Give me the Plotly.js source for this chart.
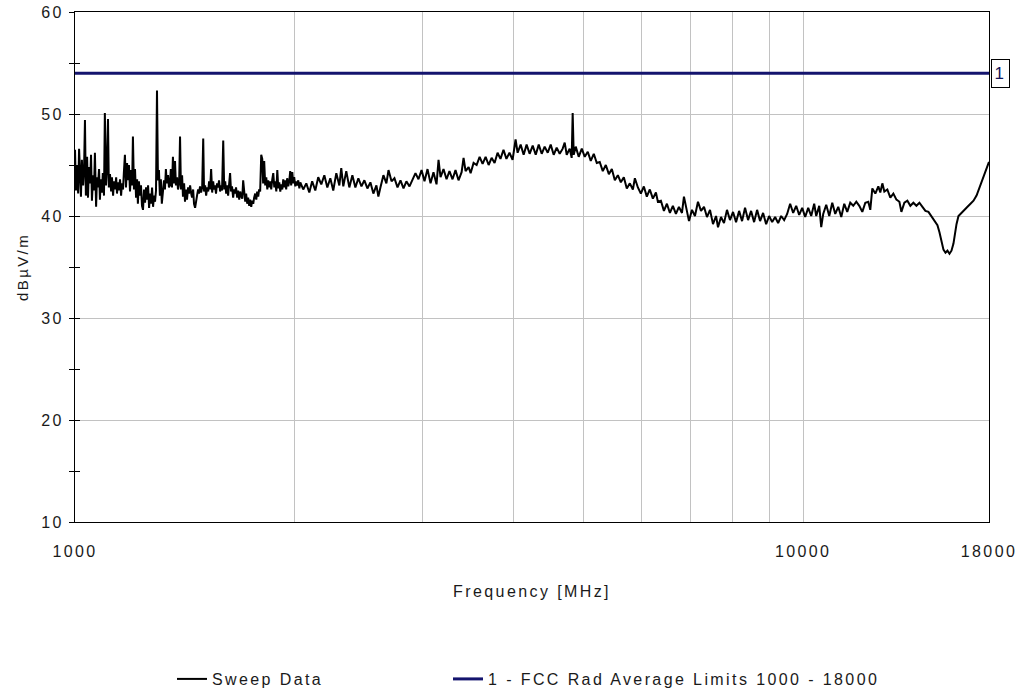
<!DOCTYPE html>
<html>
<head>
<meta charset="utf-8">
<script src="https://cdn.plot.ly/plotly-3.0.1.min.js"></script>
<style>
html,body{margin:0;padding:0;background:#fff;}
#chart{width:1022px;height:694px;}
text{letter-spacing:2.4px;}
</style>
</head>
<body>
<div id="chart"></div>
<script>
// ---- Sweep data (frequency in MHz, level in dBµV/m) ----
const sweepFreqA1 = [1000,1003,1006,1010,1013,1016,1019,1022,1026,1029,
1032,1035,1039,1042,1045,1049,1052,1055,1059,1062,
1065,1069,1072,1075,1079,1082,1085,1089,1092,1096,
1099,1103,1106,1110,1113,1117,1121,1124,1128,1131,
1135,1139,1142,1146,1149,1153,1157,1160,1164,1167,
1171,1175,1179,1182,1186,1190,1194,1198,1201,1205,
1209,1213,1217,1220,1224,1228];
const sweepDbA1 = [46.5,42.5,45.0,42.2,46.6,43.5,41.9,45.5,43.0,44.5,
49.4,42.0,45.8,41.8,44.8,43.2,46.0,41.5,44.0,42.5,
46.2,40.9,43.8,42.8,44.6,41.6,43.6,42.3,44.2,42.0,
50.1,43.0,44.4,49.5,42.8,44.1,42.4,43.8,42.0,43.4,
42.6,43.8,42.2,43.3,42.5,43.6,42.0,43.2,42.6,44.2,
46.0,42.8,45.2,43.5,45.0,42.4,44.5,43.0,47.8,42.6,
44.6,41.8,43.6,41.2,43.4,42.0];

const sweepFreqA2 = [1232,1236,1240,1244,1248,1252,1256,1260,1264,1268,
1272,1276,1280,1284,1288,1292,1296,1300,1304,1308,
1312,1316,1321,1325,1329,1333,1337,1342,1346,1350,
1354,1359,1363,1368,1372,1376,1381,1385,1390,1394,
1398,1403,1407,1412,1416,1421,1425,1430,1434,1439,
1444,1448,1453,1457,1462,1467,1471,1476,1480,1485];
const sweepDbA2 = [43.0,41.0,40.6,42.6,41.3,42.8,41.6,43.0,40.8,42.2,
41.2,42.8,40.9,42.0,41.4,42.5,52.3,43.5,44.5,42.0,
43.6,41.2,42.8,43.5,42.6,44.6,43.2,44.0,42.8,43.0,
44.6,42.8,45.8,43.2,45.4,43.0,43.8,42.6,43.2,47.8,
42.6,44.0,41.9,43.2,41.4,42.6,41.6,42.8,42.2,43.0,
42.2,41.8,42.6,41.2,40.8,41.8,42.0,42.6,42.2,42.9];

const sweepFreqA3 = [1490,1495,1500,1504,1509,1514,1519,1524,1528,1533,
1538,1543,1548,1552,1557,1562,1567,1572,1577,1582,
1587,1592,1598,1603,1608,1613,1618,1623,1628,1633,
1638,1643,1649,1654,1659,1664,1670,1675,1681,1686,
1691,1697,1702,1708,1713,1718,1724,1729,1735,1740,
1746,1751,1757,1762,1768,1774,1779,1785,1790,1796,
1802,1808,1813,1819,1825,1831,1837,1842,1848,1854,
1860,1866,1872,1878,1884,1890,1896,1902,1908,1914,
1920,1926,1932,1938,1944,1950,1956,1963,1969,1975,
1981,1988,1994,2000,2007,2013,2020,2026,2033,2039];
const sweepDbA3 = [42.3,42.8,47.6,42.4,43.0,42.0,42.8,42.4,43.4,42.6,
44.6,42.3,43.4,42.6,43.0,42.2,43.2,42.8,43.5,42.4,
43.0,42.5,47.4,42.6,43.4,42.2,43.0,42.0,42.8,44.2,
42.4,42.9,41.8,42.6,42.2,42.8,41.8,42.5,41.6,42.4,
42.0,41.7,43.5,42.0,41.4,42.2,41.2,41.8,41.0,41.6,
40.9,41.5,41.2,41.8,42.2,41.6,42.4,41.9,42.6,42.4,
46.0,45.6,43.2,45.4,43.0,43.8,42.6,43.5,42.8,43.4,
42.6,43.6,44.2,42.8,43.4,42.4,44.5,42.7,43.3,42.4,
43.1,42.6,43.6,42.8,43.5,42.6,43.7,42.9,43.4,44.4,
43.0,44.3,43.2,43.8,42.9,43.4,43.0,43.5,42.7,43.3];

const sweepFreqB = [2058,2078,2098,2117,2138,2158,2179,2200,2221,2242,
2263,2285,2307,2321,2336,2358,2381,2404,2427,2450,
2474,2497,2521,2545,2569,2594,2610,2627,2652,2677,
2695,2721,2746,2773,2799,2826,2852,2880,2907,2935,
2963,2992,3020,3049,3078,3107,3137,3157,3177,3207,
3238,3268,3300,3331,3363];
const sweepDbB = [42.6,43.2,42.3,43.4,42.5,43.8,43.1,44.0,42.8,43.7,
42.5,44.2,43.0,44.7,42.9,44.4,42.8,44.0,42.8,43.7,
42.9,43.5,42.7,43.3,42.2,43.0,41.9,42.8,44.0,43.2,
44.5,43.4,43.7,42.8,43.5,42.7,43.4,42.9,43.6,44.2,
43.6,44.5,43.4,44.6,43.2,44.3,43.1,45.5,43.8,44.6,
43.6,44.4,43.6,44.5,43.5];

const sweepFreqC = [3396,3417,3439,3472,3494,3527,3561,3595,3629,3664,
3699,3734,3769,3805,3840,3877,3913,3951,3990,4028,
4054,4093,4132,4171,4211,4252,4293,4334,4375,4416,
4459,4501,4544,4587,4631,4675,4705,4735,4780,4810,
4825,4841,4872,4918,4966,5013,5061,5109,5158,5207,
5256,5307,5358,5410,5461,5513,5566,5619,5672,5726,
5781,5837,5874,5930];
const sweepDbC = [44.3,45.7,44.4,44.8,44.2,45.2,45.0,45.8,45.1,45.8,
45.0,45.7,45.2,46.2,45.6,46.5,45.6,46.2,45.5,47.5,
46.2,47.0,46.0,47.0,46.1,46.9,46.0,47.0,46.1,46.8,
46.2,47.0,46.0,46.7,46.1,46.6,47.2,46.0,46.6,45.7,
50.1,46.0,46.8,45.8,46.6,45.8,46.3,45.4,46.1,45.2,
45.3,44.4,45.0,44.1,44.6,43.5,44.0,43.3,43.8,42.7,
43.2,42.6,43.7,42.8];

const sweepFreqD = [5986,6043,6100,6158,6218,6278,6317,6378,6439,6500,
6562,6624,6688,6752,6817,6860,6904,6970,7036,7103,
7171,7240,7309,7378,7449,7520,7593,7640,7713,7786,
7860,7935,8012,8089,8167,8244,8322,8402,8483,8564,
8645,8727,8811,8896,8981,9067,9153,9240,9329,9418,
9507,9598,9690,9783,9876,9971,10065,10162,10259];
const sweepDbD = [42.2,42.9,41.9,42.6,41.7,42.3,41.4,41.5,40.5,41.2,
40.3,41.0,40.2,40.9,40.3,41.9,40.8,39.5,40.6,40.0,
41.4,40.5,40.9,39.9,40.6,39.2,40.0,38.9,39.9,39.3,
40.6,39.6,40.4,39.4,40.5,39.5,40.8,39.6,40.5,39.4,
40.6,39.5,40.3,39.2,40.0,39.4,39.9,39.3,40.0,39.6,
40.2,41.2,40.3,41.0,40.1,40.8,39.9,40.8,40.0];

const sweepFreqE = [10356,10423,10523,10589,10656,10758,10861,10965,11069,11175,
11282,11389,11497,11607,11718,11831,11944,12058,12173,12289,
12366,12446,12565,12685,12764,12847,12928,13051,13175,13302,
13431,13559,13644,13774,13905,14037,14172,14308,14445,14583,
14722,14863,15005,15148,15292,15390,15488,15586,15685,15784,
15886,15986,16087,16138,16242,16344,16501,16658,16816,16976,
17139,17305,17414,17522,17636,17747,17861,17974,18000];
const sweepDbE = [41.2,40.0,41.0,38.9,40.2,41.1,40.0,41.3,40.2,40.9,
39.9,41.2,40.4,41.3,41.0,41.4,41.0,40.4,41.3,41.4,
40.6,42.7,42.2,42.9,42.3,43.2,42.4,42.6,41.8,42.2,
41.6,41.4,40.4,41.3,41.5,41.0,41.3,41.0,41.3,40.9,
40.5,40.4,40.0,39.6,39.1,38.4,37.5,36.7,36.4,36.6,
36.3,36.6,37.3,38.0,39.2,40.0,40.3,40.5,40.9,41.2,
41.5,42.0,42.5,43.0,43.5,44.2,44.6,45.1,45.3];

// ---- Limit line ----
const limitFreq = [1000, 18000];
const limitDb = [54, 54];
const limitLabel = '1';

// ---- Axis ticks ----
const xTickVals = [1000,2000,3000,4000,5000,6000,7000,8000,9000,10000,18000];
const xTickText = ['1000','','','','','','','','','10000','18000'];
const yTickVals = [10,20,30,40,50,60];

const sweepFreq = [].concat(sweepFreqA1, sweepFreqA2, sweepFreqA3, sweepFreqB, sweepFreqC, sweepFreqD, sweepFreqE);
const sweepDb = [].concat(sweepDbA1, sweepDbA2, sweepDbA3, sweepDbB, sweepDbC, sweepDbD, sweepDbE);

const FONT = '"Liberation Sans", Arial, sans-serif';
const TXT = '#1a1a1a';

const traces = [
  {
    x: sweepFreq, y: sweepDb, type: 'scatter', mode: 'lines',
    name: 'Sweep Data',
    legend: 'legend',
    line: {color: '#000000', width: 2},
    hoverinfo: 'skip'
  },
  {
    x: limitFreq, y: limitDb, type: 'scatter', mode: 'lines',
    name: '1 - FCC Rad Average Limits 1000 - 18000',
    legend: 'legend2',
    yaxis: 'y2',
    line: {color: '#14146e', width: 3},
    hoverinfo: 'skip'
  }
];

const legendCommon = {
  orientation: 'h',
  xanchor: 'left',
  yref: 'container', y: 0.0216, yanchor: 'middle',
  font: {family: FONT, size: 16, color: TXT},
  bgcolor: 'rgba(0,0,0,0)'
};

const layout = {
  width: 1022, height: 694,
  margin: {l: 75, r: 33, t: 12, b: 172},
  paper_bgcolor: '#ffffff', plot_bgcolor: '#ffffff',
  font: {family: FONT, color: TXT, size: 16},
  showlegend: true,
  xaxis: {
    type: 'log',
    range: [Math.log10(limitFreq[0]), Math.log10(limitFreq[1])],
    tickmode: 'array', tickvals: xTickVals, ticktext: xTickText,
    ticks: '', showgrid: true, gridcolor: '#c2c2c2', gridwidth: 1,
    showline: true, linecolor: '#000000', linewidth: 1, mirror: true,
    zeroline: false,
    tickfont: {family: FONT, size: 16, color: TXT},
    ticklabelstandoff: 15,
    title: {text: 'Frequency [MHz]', font: {family: FONT, size: 16, color: TXT}, standoff: 26},
    automargin: false
  },
  yaxis: {
    range: [10, 60],
    tickmode: 'array', tickvals: yTickVals,
    ticks: 'outside', ticklen: 5, tickwidth: 1, tickcolor: '#000000',
    minor: {ticks: 'outside', ticklen: 5, tickwidth: 1, tickcolor: '#000000', dtick: 5, tick0: 10, showgrid: false},
    showgrid: true, gridcolor: '#c2c2c2', gridwidth: 1,
    showline: true, linecolor: '#000000', linewidth: 1, mirror: true,
    zeroline: false,
    tickfont: {family: FONT, size: 16, color: TXT},
    ticklabelstandoff: 2,
    title: {text: 'dBµV/m', font: {family: FONT, size: 15, color: TXT}, standoff: 8},
    automargin: false
  },
  yaxis2: {
    overlaying: 'y', side: 'left', anchor: 'x',
    range: [10, 60],
    tickmode: 'array', tickvals: yTickVals,
    ticks: 'inside', ticklen: 5, tickwidth: 1, tickcolor: '#000000',
    minor: {ticks: 'inside', ticklen: 5, tickwidth: 1, tickcolor: '#000000', dtick: 5, tick0: 10, showgrid: false},
    showticklabels: false, showgrid: false, showline: false, zeroline: false
  },
  legend: Object.assign({}, legendCommon, {x: 0.1061}),
  legend2: Object.assign({}, legendCommon, {x: 0.4081}),
  annotations: [{
    x: Math.log10(limitFreq[1]), y: limitDb[1], xref: 'x', yref: 'y',
    text: limitLabel, showarrow: false,
    xanchor: 'left', yanchor: 'middle', xshift: 2,
    font: {family: FONT, size: 17, color: '#14145a'},
    bgcolor: '#ffffff', bordercolor: '#000000', borderwidth: 1, borderpad: 2,
    width: 13, height: 23
  }]
};

Plotly.newPlot('chart', traces, layout, {displayModeBar: false, staticPlot: true});
</script>
</body>
</html>
